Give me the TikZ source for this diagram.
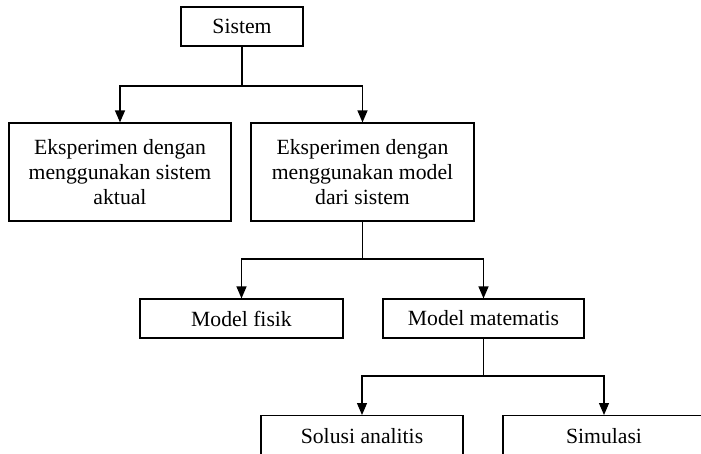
\documentclass[tikz,border=0pt]{standalone}
\usepackage{fontspec}
\setmainfont{Liberation Serif}
\usetikzlibrary{arrows.meta}
\begin{document}
\begin{tikzpicture}[x=1pt,y=-1pt,
  box/.style={draw,line width=1.2pt,inner sep=0pt,align=center,
    font=\fontsize{21.7}{25}\selectfont,minimum height=39pt},
  tall/.style={minimum height=98pt},
  cut/.style={anchor=north,minimum height=0pt,text height=28pt,text depth=30pt},
  link/.style={line width=1.2pt},
  arr/.style={line width=1.2pt,-{Triangle[width=10pt,length=12pt]}}]
\useasboundingbox (0,0) rectangle (701,453);
\clip (0,0) rectangle (701,453);
\node[box,minimum width=122pt] (sistem) at (242,26.5) {Sistem};
\node[box,tall,minimum width=222pt] (aktual) at (120,172) {Eksperimen dengan\\menggunakan sistem\\aktual};
\node[box,tall,minimum width=223pt] (model) at (362.5,172) {Eksperimen dengan\\menggunakan model\\dari sistem};
\node[box,minimum width=203pt] (fisik) at (241.5,318.5) {Model fisik};
\node[box,minimum width=201pt] (mat) at (483.5,318.5) {Model matematis};
\node[box,cut,minimum width=202pt] (solusi) at (362,415) {Solusi analitis};
\node[box,cut,minimum width=202pt] (simul) at (604,415) {Simulasi};
\coordinate (j1) at (242,86);
\coordinate (j2) at (362.5,259);
\coordinate (j3) at (483.5,376);
\draw[link] (sistem.south) -- (j1);
\draw[arr] (j1) -| (aktual.north);
\draw[arr] (j1) -| (model.north);
\draw[link] (model.south) -- (j2);
\draw[arr] (j2) -| (fisik.north);
\draw[arr] (j2) -| (mat.north);
\draw[link] (mat.south) -- (j3);
\draw[arr] (j3) -| (solusi.north);
\draw[arr] (j3) -| (simul.north);
\end{tikzpicture}
\end{document}
